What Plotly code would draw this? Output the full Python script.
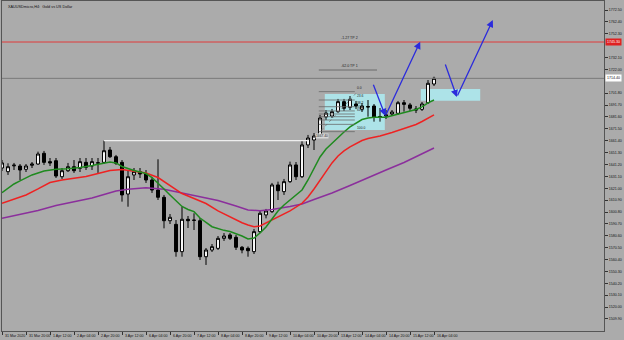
import plotly.graph_objects as go

# ---------------- data ----------------
bars = list(range(73))
opens = [1638.2,1635.1,1640.0,1639.9,1637.1,1640.5,1641.6,1650.7,1643.6,1644.4,
         1630.8,1635.9,1639.3,1637.9,1643.0,1639.9,1642.2,1643.0,1653.5,1647.8,
         1643.0,1616.1,1632.3,1635.1,1633.1,1628.0,1619.5,1613.3,1593.4,1590.3,
         1567.1,1594.6,1594.0,1593.4,1562.8,1568.5,1569.9,1578.4,1581.3,1579.3,
         1570.8,1569.9,1567.1,1584.1,1598.3,1601.1,1623.8,1618.1,1626.6,1640.8,
         1630.8,1657.8,1662.0,1665.4,1681.6,1682.4,1686.1,1694.6,1689.8,1692.6,
         1688.1,1690.5,1690.9,1682.0,1682.4,1684.1,1684.7,1693.7,1691.8,1688.4,
         1688.1,1693.7,1709.6]
highs = [1645.0,1642.2,1642.5,1641.6,1641.6,1643.3,1652.1,1652.7,1646.7,1646.7,
         1638.2,1642.5,1645.0,1646.7,1646.7,1646.7,1646.7,1661.4,1656.1,1649.3,
         1645.0,1636.5,1638.2,1638.2,1636.5,1630.6,1645.6,1615.3,1599.1,1594.0,
         1605.3,1597.4,1599.7,1595.7,1570.2,1573.6,1580.4,1582.9,1582.9,1581.3,
         1571.9,1571.5,1586.4,1602.5,1603.4,1625.5,1626.6,1628.9,1643.6,1643.3,
         1661.2,1666.3,1667.9,1683.3,1687.5,1688.4,1696.9,1696.9,1699.4,1695.2,
         1693.5,1696.0,1692.6,1689.2,1687.5,1687.5,1695.2,1696.0,1693.5,1690.9,
         1694.3,1713.0,1715.8]
lows = [1635.7,1632.3,1636.5,1628.0,1634.8,1638.2,1640.8,1640.8,1639.9,1629.7,
        1628.9,1634.8,1634.0,1634.8,1636.5,1636.5,1634.0,1641.6,1646.7,1640.8,
        1609.6,1605.3,1628.0,1629.7,1625.5,1617.0,1611.0,1586.9,1590.6,1562.8,
        1562.8,1587.2,1585.5,1560.0,1555.8,1566.8,1568.5,1576.2,1577.0,1568.5,
        1565.7,1562.8,1565.1,1582.9,1595.4,1600.0,1611.0,1615.3,1625.5,1628.0,
        1629.7,1655.2,1653.5,1664.6,1679.0,1680.7,1685.0,1686.7,1687.5,1688.4,
        1685.8,1681.8,1677.6,1677.6,1679.9,1682.4,1683.3,1686.1,1686.7,1684.9,
        1686.7,1692.6,1707.9]
closes = [1642.5,1639.3,1640.6,1636.5,1639.9,1641.6,1650.1,1643.0,1642.5,1631.4,
          1635.9,1639.3,1635.9,1643.6,1638.8,1643.6,1642.7,1652.9,1647.8,1642.2,
          1615.3,1630.8,1635.1,1633.1,1628.0,1619.5,1613.3,1593.4,1596.3,1567.1,
          1594.6,1593.4,1593.7,1562.8,1568.5,1571.3,1578.4,1580.4,1578.4,1570.8,
          1568.5,1567.9,1584.1,1599.7,1601.7,1623.8,1618.9,1626.6,1640.8,1630.8,
          1657.8,1663.7,1665.4,1680.7,1684.9,1686.1,1694.6,1689.0,1696.6,1690.9,
          1690.9,1690.1,1681.3,1681.6,1683.3,1685.8,1693.7,1692.3,1689.0,1687.5,
          1692.6,1710.2,1714.4]

# moving averages (read at sample bars)
ma_fast_bars = [0,2,3,5,7,9,11,13,15,17,18,19,20,22,24,25,26,27,28,29,30,31,32,33,35,37,38,40,41,42,
                43,44,45,46,47,48,49,50,51,52,53,54,55,56,57,58,59,60,61,62,64,66,68,69,70,71,72]
ma_fast = [1617.2,1624.6,1627.2,1632.3,1635.7,1637.1,1637.6,1638.6,1640.3,1642.5,1643.3,1642.5,1639.5,
           1636.1,1633.5,1630.1,1625.5,1620.4,1615.3,1610.2,1605.5,1602.9,1601.1,1595.7,1588.3,1585.2,
           1584.2,1580.4,1577.9,1578.7,1582.9,1588.1,1595.4,1601.7,1606.8,1611.0,1615.3,1619.5,1628.0,
           1638.2,1647.6,1654.4,1659.5,1664.6,1668.8,1673.1,1676.5,1679.4,1680.7,1681.3,1681.3,1683.7,
           1686.2,1687.9,1690.1,1693.5,1696.0]
ma_mid_bars = [0,2,4,6,8,10,12,14,16,18,20,22,24,26,28,30,32,34,36,38,40,41,42,43,44,46,48,50,51,52,
               53,54,55,56,57,58,59,60,61,63,65,67,69,70,71,72]
ma_mid = [1608.2,1611.9,1615.3,1620.4,1625.9,1628.0,1629.3,1631.0,1633.5,1636.1,1636.9,1635.2,1634.0,
          1630.1,1623.3,1616.5,1612.3,1608.0,1601.7,1596.6,1591.7,1589.8,1588.3,1588.9,1591.5,1596.6,
          1601.7,1608.2,1613.6,1620.4,1628.0,1635.7,1642.5,1648.4,1652.7,1656.1,1659.0,1661.6,1663.3,
          1665.4,1668.4,1671.8,1675.2,1677.7,1680.3,1683.3]
ma_slow_bars = [0,6,9,12,15,17,19,21,24,27,29,31,33,36,39,41,43,45,48,50,52,55,58,61,64,67,70,72]
ma_slow = [1595.4,1602.1,1606.3,1609.3,1612.7,1615.7,1618.7,1620.1,1621.5,1620.1,1618.1,1616.1,1614.0,
           1610.6,1605.9,1602.5,1601.9,1602.9,1605.5,1607.6,1611.4,1617.0,1623.3,1630.1,1636.5,1642.9,
           1650.1,1655.2]

date_labels = ["31 Mar 2020","31 Mar 20:00","1 Apr 12:00","2 Apr 04:00","2 Apr 20:00","3 Apr 12:00",
               "6 Apr 04:00","6 Apr 20:00","7 Apr 12:00","8 Apr 04:00","8 Apr 20:00","9 Apr 12:00",
               "10 Apr 04:00","10 Apr 20:00","13 Apr 12:00","14 Apr 04:00","14 Apr 20:00","15 Apr 12:00",
               "16 Apr 04:00"]
date_bars = bars[::4]

# price scale labels
price_tick_start = 1772.5
price_tick_step = 10.1
price_tick_count = 27

# horizontal levels
tp2_level = 1745.3
tp1_level = 1721.5
last_price = closes[-1]
swing_high_level = 1661.4
swing_bar_start, swing_bar_end = 17, 51

fib_levels = [1703.1,1696.0,1690.3,1686.7,1684.1,1681.8,1679.0,1675.3,1669.1]
fib_names = ["0.0","23.6","38.2","50.0","61.8","","","","100.0"]
fib_bar_start, fib_bar_end = 52.8, 58.8
fib_diag_bars = [52.5, 59.2]
fib_diag_vals = [1666.3, 1702.8]

zones = [  # bar0, bar1, low, high
    (53.8, 63.8, 1670.5, 1701.1),
    (69.8, 79.7, 1695.4, 1705.35),
]
arrow_paths = [
    [(61.8, 1710.2), (63.9, 1682.4), (69.7, 1745.6)],
    [(73.8, 1727.5), (75.8, 1698.5), (81.8, 1764.0)],
]

# ---------------- figure ----------------
BG = "#ababab"
FONT = "Liberation Sans"
Y_RANGE = [1499.65, 1780.15]
fig = go.Figure()

for b0, b1, lo, hi in zones:
    fig.add_shape(type="rect", x0=b0, x1=b1, y0=lo, y1=hi, xref="x", yref="y",
                  fillcolor="#ade3e8", line=dict(width=0), layer="below")

fig.add_shape(type="line", xref="paper", x0=0, x1=1, yref="y", y0=tp2_level, y1=tp2_level,
              line=dict(color="#e03a3a", width=1))
fig.add_shape(type="line", xref="paper", x0=0, x1=1, yref="y", y0=last_price, y1=last_price,
              line=dict(color="#7a7a7a", width=1))
fig.add_shape(type="line", xref="x", x0=52.8, x1=62.5, yref="y", y0=tp1_level, y1=tp1_level,
              line=dict(color="#6a6a6a", width=1))
fig.add_shape(type="line", xref="x", x0=swing_bar_start, x1=swing_bar_end, yref="y",
              y0=swing_high_level, y1=swing_high_level, line=dict(color="#eeeeee", width=1.3))

for lv in fib_levels:
    fig.add_shape(type="line", xref="x", x0=fib_bar_start, x1=fib_bar_end, yref="y", y0=lv, y1=lv,
                  line=dict(color="#6a6a6a", width=0.8))
fig.add_trace(go.Scatter(x=fib_diag_bars, y=fib_diag_vals, mode="lines",
                         line=dict(color="#777777", width=0.8, dash="dot"), hoverinfo="skip"))

fig.add_trace(go.Scatter(x=ma_slow_bars, y=ma_slow, mode="lines",
                         line=dict(color="#8b2f9c", width=1.5), hoverinfo="skip"))
fig.add_trace(go.Scatter(x=ma_mid_bars, y=ma_mid, mode="lines",
                         line=dict(color="#ee2222", width=1.5), hoverinfo="skip"))
fig.add_trace(go.Scatter(x=ma_fast_bars, y=ma_fast, mode="lines",
                         line=dict(color="#1f8a1f", width=1.5), hoverinfo="skip"))

fig.add_trace(go.Candlestick(
    x=bars, open=opens, high=highs, low=lows, close=closes,
    increasing=dict(line=dict(color="#000000", width=1), fillcolor="#ffffff"),
    decreasing=dict(line=dict(color="#000000", width=1), fillcolor="#000000"),
    whiskerwidth=0, hoverinfo="skip"))

for path in arrow_paths:
    for (xa, ya), (xb, yb) in zip(path[:-1], path[1:]):
        fig.add_annotation(x=xb, y=yb, ax=xa, ay=ya, xref="x", yref="y", axref="x", ayref="y",
                           showarrow=True, arrowhead=2, arrowsize=1.1, arrowwidth=1.3,
                           arrowcolor="#2b2bdc", text="")

for lv, nm in zip(fib_levels, fib_names):
    if nm:
        fig.add_annotation(x=fib_bar_end, y=lv, xref="x", yref="y", text=nm, showarrow=False,
                           xanchor="left", yanchor="bottom", font=dict(size=3.3, color="#222", family=FONT))
fig.add_annotation(x=59.6, y=tp2_level, xref="x", yref="y", text="-1.27 TP 2", showarrow=False,
                   xanchor="right", yanchor="bottom", font=dict(size=3.6, color="#222", family=FONT))
fig.add_annotation(x=59.6, y=tp1_level, xref="x", yref="y", text="-62.0 TP 1", showarrow=False,
                   xanchor="right", yanchor="bottom", font=dict(size=3.6, color="#222", family=FONT))
fig.add_annotation(x=52.2, y=1665.0, xref="x", yref="y", text="1667.40", showarrow=False,
                   xanchor="left", yanchor="middle", bgcolor="#d8d8d8", borderpad=0,
                   font=dict(size=3.3, color="#222", family=FONT))

fig.add_annotation(x=0.006, y=0.995, xref="paper", yref="paper", text="XAUUSDmicro,H4:  Gold vs US Dollar",
                   showarrow=False, xanchor="left", yanchor="top", font=dict(size=3.8, color="#111", family=FONT))

# right-axis price tags
fig.add_annotation(x=1.0, y=tp2_level, xref="paper", yref="y", text="%.2f" % tp2_level, showarrow=False,
                   xanchor="left", yanchor="middle", bgcolor="#e02020", borderpad=1, xshift=1,
                   font=dict(size=3.6, color="#ffffff", family=FONT))
fig.add_annotation(x=1.0, y=last_price, xref="paper", yref="y", text="%.2f" % last_price, showarrow=False,
                   xanchor="left", yanchor="middle", bgcolor="#ffffff", borderpad=1, xshift=1,
                   font=dict(size=3.6, color="#111", family=FONT))

# price ticks, skipping those hidden under the tags
px_per_unit = 330 / (Y_RANGE[1] - Y_RANGE[0])
tick_vals = []
for k in range(price_tick_count):
    v = price_tick_start - k * price_tick_step
    if all(abs(v - t) * px_per_unit > 6 for t in (tp2_level, last_price)):
        tick_vals.append(round(v, 2))

for b, t in zip(date_bars, date_labels):
    fig.add_annotation(x=b, y=0, xref="x", yref="paper", text=t, showarrow=False,
                       xanchor="left", yanchor="top", xshift=1, yshift=-1,
                       font=dict(size=3.6, color="#111", family=FONT))

fig.update_layout(
    width=624, height=340,
    margin=dict(l=2, r=20, t=1, b=9),
    paper_bgcolor=BG, plot_bgcolor=BG,
    showlegend=False,
    xaxis=dict(range=[0, 100.33], rangeslider=dict(visible=False), showgrid=False, zeroline=False,
               tickvals=date_bars, ticktext=[""] * len(date_bars), ticks="outside", ticklen=3,
               tickcolor="#333", showline=True, linecolor="#555", mirror=True, linewidth=1),
    yaxis=dict(range=Y_RANGE, side="right", showgrid=False, zeroline=False,
               tickvals=tick_vals, tickformat=".2f", ticks="outside", ticklen=3, tickcolor="#333",
               tickfont=dict(size=3.6, color="#111", family=FONT),
               showline=True, linecolor="#555", mirror=True, linewidth=1),
)

fig.write_html("out.html")
